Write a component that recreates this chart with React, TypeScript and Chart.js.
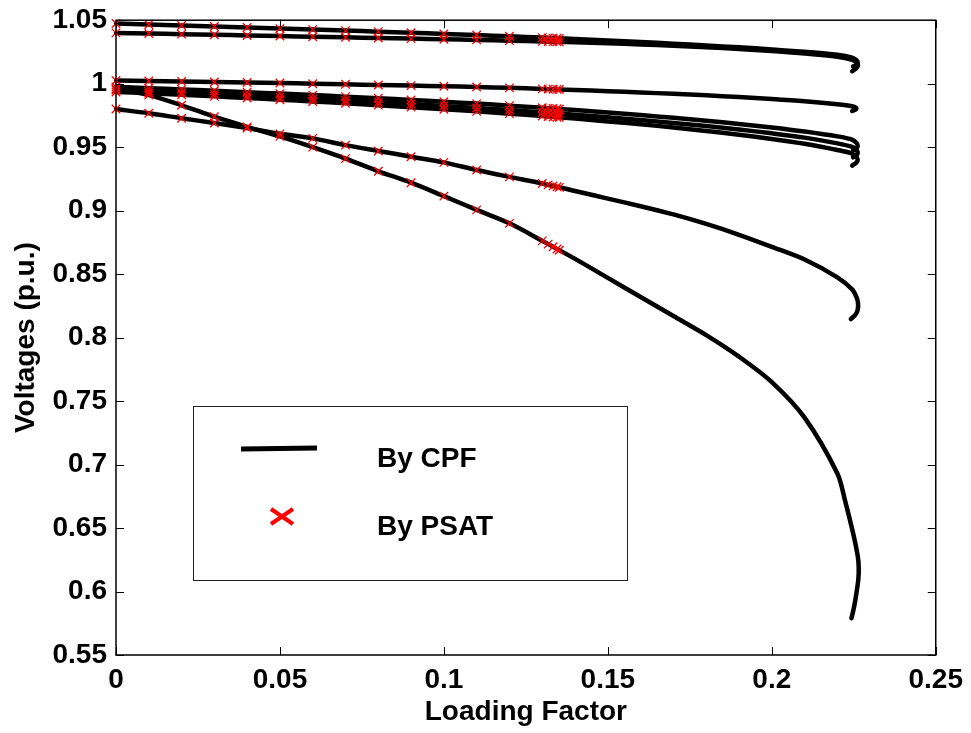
import React, { useEffect, useRef } from "react";
import { Chart, registerables } from "chart.js";

Chart.register(...registerables);

// Loading factor grid of the CPF upper branches
const LAMBDA_GRID = [0, 0.01, 0.02, 0.03, 0.04, 0.05, 0.06, 0.07, 0.08, 0.09, 0.1, 0.11, 0.12, 0.13, 0.14, 0.15, 0.16, 0.17, 0.18, 0.19, 0.2, 0.21, 0.22];

// CPF voltages per bus (upper branch on LAMBDA_GRID) + nose tail [lambda, V]
const BUS_A_V = [1.0474, 1.0466, 1.0458, 1.045, 1.0442, 1.0434, 1.0426, 1.0418, 1.041, 1.0401, 1.0392, 1.0383, 1.0373, 1.0363, 1.0352, 1.034, 1.0328, 1.0315, 1.0301, 1.0286, 1.027, 1.0252, 1.0228];
const BUS_A_NOSE = [[0.2245, 1.0205], [0.2258, 1.0185], [0.2262, 1.0165], [0.2258, 1.015], [0.2248, 1.0135]];
const BUS_B_V = [1.04, 1.0395, 1.039, 1.0385, 1.038, 1.0375, 1.037, 1.0365, 1.036, 1.0355, 1.035, 1.0345, 1.0339, 1.0333, 1.0326, 1.0318, 1.0309, 1.0299, 1.0287, 1.0273, 1.0257, 1.0238, 1.0212];
const BUS_B_NOSE = [[0.2245, 1.0188], [0.2258, 1.0168], [0.2263, 1.0145], [0.2258, 1.0122], [0.2245, 1.0098]];
const BUS_C_V = [1.0025, 1.0021, 1.0017, 1.0013, 1.0009, 1.0005, 1.0, 0.9995, 0.999, 0.9985, 0.998, 0.9974, 0.9967, 0.9959, 0.995, 0.9941, 0.9931, 0.992, 0.9908, 0.9895, 0.988, 0.9862, 0.9838];
const BUS_C_NOSE = [[0.2245, 0.9822], [0.2258, 0.9808], [0.2255, 0.9795], [0.2245, 0.9785]];
const BUS_D1_V = [0.9975, 0.9965, 0.9955, 0.9944, 0.9933, 0.9922, 0.991, 0.9898, 0.9885, 0.9872, 0.9858, 0.9843, 0.9827, 0.981, 0.9792, 0.9773, 0.9753, 0.9731, 0.9708, 0.9683, 0.9655, 0.9623, 0.9585];
const BUS_D1_NOSE = [[0.2245, 0.956], [0.2258, 0.9535], [0.2262, 0.951], [0.2258, 0.949], [0.2248, 0.9475]];
const BUS_D2_V = [0.995, 0.994, 0.9929, 0.9918, 0.9906, 0.9894, 0.9881, 0.9868, 0.9854, 0.984, 0.9825, 0.9809, 0.9792, 0.9774, 0.9755, 0.9735, 0.9714, 0.9691, 0.9666, 0.9639, 0.9609, 0.9575, 0.953];
const BUS_D2_NOSE = [[0.2245, 0.9502], [0.2258, 0.9478], [0.2262, 0.9455], [0.2258, 0.9435], [0.2248, 0.942]];
const BUS_D3_V = [0.9935, 0.9924, 0.9912, 0.99, 0.9887, 0.9874, 0.986, 0.9846, 0.9831, 0.9815, 0.9799, 0.9782, 0.9764, 0.9745, 0.9725, 0.9703, 0.968, 0.9655, 0.9628, 0.9598, 0.9565, 0.9527, 0.9478];
const BUS_D3_NOSE = [[0.2245, 0.945], [0.2258, 0.9425], [0.2262, 0.94], [0.2258, 0.9378], [0.2245, 0.9355]];
const BUS_E_V = [0.996, 0.991, 0.983, 0.974, 0.966, 0.9585, 0.95, 0.941, 0.931, 0.922, 0.9114, 0.9006, 0.89, 0.8762, 0.862, 0.847, 0.832, 0.817, 0.802, 0.785, 0.765, 0.737, 0.693];
const BUS_E_NOSE = [[0.2223, 0.672], [0.2248, 0.6458], [0.2262, 0.628], [0.2265, 0.6195], [0.2264, 0.61], [0.2258, 0.5986], [0.2251, 0.588], [0.2243, 0.5789]];
const BUS_F_V = [0.98, 0.9767, 0.9728, 0.969, 0.965, 0.9605, 0.9569, 0.9516, 0.947, 0.9425, 0.938, 0.932, 0.9266, 0.9214, 0.9155, 0.9095, 0.9035, 0.897, 0.8895, 0.881, 0.8715, 0.8615, 0.8475];
const BUS_F_NOSE = [[0.2245, 0.838], [0.2258, 0.832], [0.2263, 0.827], [0.2262, 0.822], [0.2255, 0.818], [0.2241, 0.8146]];

// PSAT points
const PSAT_LAMBDA = [0, 0.01, 0.02, 0.03, 0.04, 0.05, 0.06, 0.07, 0.08, 0.09, 0.1, 0.11, 0.12, 0.13, 0.1318, 0.1333, 0.1345, 0.1352];
const PSAT_A = [1.0474, 1.0466, 1.0458, 1.045, 1.0442, 1.0434, 1.0426, 1.0418, 1.041, 1.0401, 1.0392, 1.0383, 1.0373, 1.0363, 1.0361, 1.0359, 1.0358, 1.0357];
const PSAT_B = [1.04, 1.0395, 1.039, 1.0385, 1.038, 1.0375, 1.037, 1.0365, 1.036, 1.0355, 1.035, 1.0345, 1.0339, 1.0333, 1.0332, 1.0331, 1.033, 1.0329];
const PSAT_C = [1.0025, 1.0021, 1.0017, 1.0013, 1.0009, 1.0005, 1.0, 0.9995, 0.999, 0.9985, 0.998, 0.9974, 0.9967, 0.9959, 0.9957, 0.9956, 0.9955, 0.9954];
const PSAT_D1 = [0.9975, 0.9965, 0.9955, 0.9944, 0.9933, 0.9922, 0.991, 0.9898, 0.9885, 0.9872, 0.9858, 0.9843, 0.9827, 0.981, 0.9807, 0.9804, 0.9802, 0.9801];
const PSAT_D2 = [0.995, 0.994, 0.9929, 0.9918, 0.9906, 0.9894, 0.9881, 0.9868, 0.9854, 0.984, 0.9825, 0.9809, 0.9792, 0.9774, 0.9771, 0.9768, 0.9765, 0.9764];
const PSAT_D3 = [0.9935, 0.9924, 0.9912, 0.99, 0.9887, 0.9874, 0.986, 0.9846, 0.9831, 0.9815, 0.9799, 0.9782, 0.9764, 0.9745, 0.9741, 0.9738, 0.9736, 0.9735];
const PSAT_E = [0.996, 0.991, 0.983, 0.974, 0.966, 0.9585, 0.95, 0.941, 0.931, 0.922, 0.9114, 0.9006, 0.89, 0.8762, 0.8736, 0.8715, 0.8698, 0.8688];
const PSAT_F = [0.98, 0.9767, 0.9728, 0.969, 0.965, 0.9605, 0.9569, 0.9516, 0.947, 0.9425, 0.938, 0.932, 0.9266, 0.9214, 0.9203, 0.9195, 0.9188, 0.9183];

const X_TICKS = [0, 0.05, 0.1, 0.15, 0.2, 0.25];
const Y_TICKS = [0.55, 0.6, 0.65, 0.7, 0.75, 0.8, 0.85, 0.9, 0.95, 1, 1.05];
const LEGEND_LABELS = ["By CPF", "By PSAT"];
const X_TITLE = "Loading Factor";
const Y_TITLE = "Voltages (p.u.)";

const CPF_CURVES = [
  [BUS_A_V, BUS_A_NOSE], [BUS_B_V, BUS_B_NOSE], [BUS_C_V, BUS_C_NOSE],
  [BUS_D1_V, BUS_D1_NOSE], [BUS_D2_V, BUS_D2_NOSE], [BUS_D3_V, BUS_D3_NOSE],
  [BUS_E_V, BUS_E_NOSE], [BUS_F_V, BUS_F_NOSE],
] as [number[], number[][]][];
const PSAT_SERIES = [PSAT_A, PSAT_B, PSAT_C, PSAT_D1, PSAT_D2, PSAT_D3, PSAT_E, PSAT_F];

const FONT = "'Liberation Sans', Arial, sans-serif";

const framePlugin = {
  id: "frameTicks",
  afterDatasetsDraw(chart: any) {
    const { ctx, chartArea: a, scales } = chart;
    const xs = scales.x, ys = scales.y;
    ctx.save();
    ctx.strokeStyle = "#000";
    ctx.lineWidth = 1.5;
    ctx.strokeRect(a.left, a.top, a.right - a.left, a.bottom - a.top);
    ctx.lineWidth = 1;
    const L = 8;
    ctx.beginPath();
    X_TICKS.forEach((v) => {
      const px = Math.round(xs.getPixelForValue(v)) + 0.5;
      ctx.moveTo(px, a.bottom); ctx.lineTo(px, a.bottom - L);
      ctx.moveTo(px, a.top); ctx.lineTo(px, a.top + L);
    });
    Y_TICKS.forEach((v) => {
      const py = Math.round(ys.getPixelForValue(v)) + 0.5;
      ctx.moveTo(a.left, py); ctx.lineTo(a.left + L, py);
      ctx.moveTo(a.right, py); ctx.lineTo(a.right - L, py);
    });
    ctx.stroke();

    // legend
    const bx = 193.5, by = 406.5, bw = 434, bh = 174;
    ctx.fillStyle = "#fff";
    ctx.fillRect(bx, by, bw, bh);
    ctx.strokeStyle = "#222";
    ctx.lineWidth = 1;
    ctx.strokeRect(bx, by, bw, bh);
    ctx.strokeStyle = "#000";
    ctx.lineWidth = 5;
    ctx.beginPath();
    ctx.moveTo(241, 449); ctx.lineTo(317, 448);
    ctx.stroke();
    ctx.strokeStyle = "#ff0000";
    ctx.lineWidth = 4;
    ctx.beginPath();
    ctx.moveTo(271, 509); ctx.lineTo(293, 524);
    ctx.moveTo(271, 524); ctx.lineTo(293, 509);
    ctx.stroke();
    ctx.fillStyle = "#000";
    ctx.font = `bold 28px ${FONT}`;
    ctx.textBaseline = "alphabetic";
    ctx.textAlign = "left";
    ctx.fillText(LEGEND_LABELS[0], 377, 467);
    ctx.fillText(LEGEND_LABELS[1], 377, 535);
    ctx.restore();
  },
};

export default function App() {
  const ref = useRef<HTMLCanvasElement | null>(null);
  useEffect(() => {
    document.body.style.margin = "0";
    const datasets: any[] = [];
    PSAT_SERIES.forEach((vals) => {
      datasets.push({
        label: LEGEND_LABELS[1],
        data: PSAT_LAMBDA.map((x, i) => ({ x, y: vals[i] })),
        showLine: false,
        pointStyle: "crossRot",
        pointRadius: 6,
        pointBorderColor: "#ff0000",
        pointBorderWidth: 1.3,
        borderColor: "#ff0000",
        clip: false,
        order: 0,
      });
    });
    CPF_CURVES.forEach(([upper, nose]) => {
      const pts = LAMBDA_GRID.map((x, i) => ({ x, y: upper[i] }));
      nose.forEach(([x, y]) => pts.push({ x, y }));
      datasets.push({
        label: LEGEND_LABELS[0],
        data: pts,
        showLine: true,
        pointRadius: 0,
        borderColor: "#000",
        borderWidth: 4.5,
        tension: 0.3,
        borderCapStyle: "round",
        borderJoinStyle: "round",
        clip: false,
        order: 1,
      });
    });
    const chart = new Chart(ref.current!, {
      type: "scatter",
      data: { datasets },
      options: {
        animation: false,
        responsive: false,
        devicePixelRatio: 1,
        layout: { padding: { top: 5, right: 35, left: 0, bottom: 0 } },
        plugins: { legend: { display: false }, tooltip: { enabled: false } },
        scales: {
          x: {
            type: "linear",
            min: 0,
            max: 0.25,
            afterFit: (s: any) => { s.height = 78; },
            afterBuildTicks: (s: any) => { s.ticks = X_TICKS.map((v) => ({ value: v })); },
            grid: { display: false, drawTicks: false },
            border: { display: false },
            ticks: {
              color: "#000",
              padding: 8,
              maxRotation: 0,
              font: { family: FONT, size: 28, weight: "bold" },
              callback: (v: any) => String(Math.round(Number(v) * 100) / 100),
            },
            title: {
              display: true,
              text: X_TITLE,
              color: "#000",
              font: { family: FONT, size: 28, weight: "bold" },
              padding: { top: 0, bottom: 4 },
            },
          },
          y: {
            type: "linear",
            min: 0.55,
            max: 1.05,
            afterFit: (s: any) => { s.width = 116; },
            afterBuildTicks: (s: any) => { s.ticks = Y_TICKS.map((v) => ({ value: v })); },
            grid: { display: false, drawTicks: false },
            border: { display: false },
            ticks: {
              color: "#000",
              padding: 9,
              font: { family: FONT, size: 28, weight: "bold", lineHeight: 0.8 },
              callback: (v: any) => String(Math.round(Number(v) * 100) / 100),
            },
            title: {
              display: true,
              text: Y_TITLE,
              color: "#000",
              font: { family: FONT, size: 28, weight: "bold" },
              padding: { top: 9, bottom: 0 },
            },
          },
        },
      },
      plugins: [framePlugin],
    });
    return () => chart.destroy();
  }, []);
  return (
    <div style={{ position: "absolute", left: 0, top: 0, width: 971, height: 733, background: "#fff" }}>
      <canvas ref={ref} width={971} height={733} style={{ display: "block" }} />
    </div>
  );
}
